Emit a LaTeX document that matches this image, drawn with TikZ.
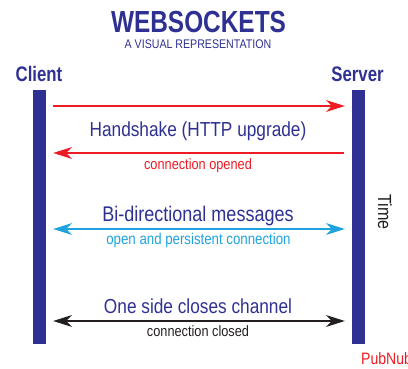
\documentclass[tikz,border=0pt]{standalone}
\usepackage{fontspec}
\setmainfont{Liberation Sans}
\newfontfamily\narrowfont[FakeStretch=0.85]{Liberation Sans}
\newfontfamily\narrowbold[FakeStretch=0.8]{Liberation Sans Bold}
\usepackage{xcolor}
\usepackage{tikz}
\usetikzlibrary{arrows.meta}

\definecolor{wsblue}{HTML}{2E3192}
\definecolor{wsred}{HTML}{ED1C24}
\definecolor{wscyan}{HTML}{1FA3DE}
\definecolor{wsblack}{HTML}{231F20}

\begin{document}
\begin{tikzpicture}[
  x=1pt, y=-1pt,
  bar/.style={fill=wsblue, inner sep=0pt, minimum width=13pt, minimum height=254pt},
  heading/.style={anchor=base, inner sep=0pt, text=wsblue, font=\narrowbold\fontsize{21}{21}\selectfont},
  caption/.style={anchor=base, inner sep=0pt, text=wsblue, font=\narrowfont\fontsize{20.3}{20}\selectfont},
  note/.style={anchor=base, inner sep=0pt, font=\narrowfont\fontsize{15}{15}\selectfont},
  msg/.style={line width=1.2pt, shorten <=7pt, shorten >=7pt, -{Stealth[length=19pt, width=12pt, inset=6pt]}},
  duplex/.style={msg, {Stealth[length=19pt, width=12pt, inset=6pt]}-{Stealth[length=19pt, width=12pt, inset=6pt]}}
]
  \useasboundingbox (0,0) rectangle (408,369);

  % title
  \node[heading, font=\narrowbold\fontsize{30.5}{30}\selectfont] (title) at (198.5,33) {WEBSOCKETS};
  \node[heading, font=\narrowfont\fontsize{12.5}{12}\selectfont] (subtitle) at (198,49) {A VISUAL REPRESENTATION};

  % the two ends
  \node[heading] (client) at (39,82) {Client};
  \node[heading] (server) at (357.5,82) {Server};
  \node[bar] (c_bar) at (39.5,217) {};
  \node[bar] (s_bar) at (358.5,217) {};

  % handshake
  \draw[msg, wsred] (c_bar.east |- 0,106) -- (s_bar.west |- 0,106);
  \node[caption] (hs) at (198,137) {Handshake (HTTP upgrade)};
  \draw[msg, wsred, shorten <=8pt] (s_bar.west |- 0,153) -- (c_bar.east |- 0,153);
  \node[note, text=wsred] (hs_note) at (198,170) {connection opened};

  % messages
  \node[caption, font=\narrowfont\fontsize{21.2}{21}\selectfont] (bidi) at (198,222) {Bi-directional messages};
  \draw[duplex, wscyan] (c_bar.east |- 0,229) -- (s_bar.west |- 0,229);
  \node[note, text=wscyan, font=\narrowfont\fontsize{15.6}{15}\selectfont] (bidi_note) at (198.5,245) {open and persistent connection};

  % close
  \node[caption] (close) at (198,314) {One side closes channel};
  \draw[duplex, wsblack] (c_bar.east |- 0,321) -- (s_bar.west |- 0,321);
  \node[note, text=wsblack] (close_note) at (198,337) {connection closed};

  \node[rotate=-90, inner sep=0pt, text=wsblack, font=\narrowfont\fontsize{19}{19}\selectfont] (time) at (385,212) {Time};
  \node[note, anchor=base west, text=wsred, font=\narrowfont\fontsize{16.5}{16}\selectfont] (brand) at (361,365) {PubNub};
\end{tikzpicture}
\end{document}
